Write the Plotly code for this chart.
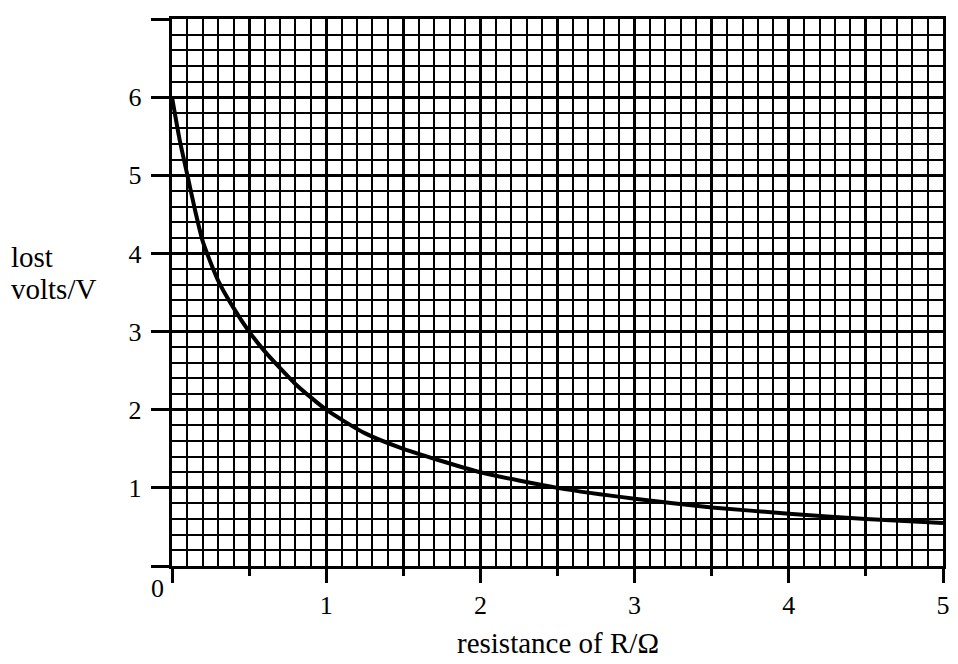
import plotly.graph_objects as go

# values
resistance = [0.0, 0.05, 0.1, 0.15, 0.2, 0.3, 0.4, 0.5, 0.6, 0.8, 1.0, 1.25, 1.5, 2.0, 2.5, 3.0, 3.5, 4.0, 4.5, 5.0]
lost_volts = [6.0, 5.45, 5.0, 4.55, 4.15, 3.65, 3.3, 3.0, 2.75, 2.33, 2.0, 1.7, 1.5, 1.2, 1.0, 0.86, 0.75, 0.67, 0.6, 0.55]

x_tick_vals = [0, 1, 2, 3, 4, 5]
x_tick_text = ["", "1", "2", "3", "4", "5"]
y_tick_vals = [0, 1, 2, 3, 4, 5, 6, 7]
y_tick_text = ["", "1", "2", "3", "4", "5", "6", ""]

FONT = "Liberation Serif"
INK = "black"

fig = go.Figure()
fig.add_trace(go.Scatter(x=resistance, y=lost_volts, mode="lines",
                         line=dict(color=INK, width=4, shape="spline", smoothing=0.6),
                         hoverinfo="skip", showlegend=False))
# invisible trace to activate the half-unit overlay axis
fig.add_trace(go.Scatter(x=[0, 5], y=[0, 0], xaxis="x2", mode="lines",
                         line=dict(width=0), hoverinfo="skip", showlegend=False))

fig.update_layout(
    width=950, height=656,
    margin=dict(l=164, r=12, t=8, b=98),
    paper_bgcolor="white", plot_bgcolor="white",
    font=dict(family=FONT, color=INK, size=26),
    xaxis=dict(range=[0, 5], tickvals=x_tick_vals, ticktext=x_tick_text,
               ticks="outside", ticklen=14, tickwidth=2.5, tickcolor=INK,
               ticklabelstandoff=0,
               showgrid=True, gridcolor=INK, gridwidth=3.4,
               minor=dict(dtick=0.1, tick0=0, showgrid=True, gridcolor=INK, gridwidth=2.1, ticks=""),
               showline=True, linecolor=INK, linewidth=3.4, mirror=True,
               zeroline=False, tickfont=dict(size=26)),
    xaxis2=dict(range=[0, 5], overlaying="x", side="bottom", anchor="y",
                tickmode="linear", tick0=0.5, dtick=1,
                ticks="outside", ticklen=9, tickwidth=2.5, tickcolor=INK,
                showticklabels=False,
                showgrid=True, gridcolor=INK, gridwidth=3.4, zeroline=False),
    yaxis=dict(range=[0, 7], tickvals=y_tick_vals, ticktext=y_tick_text,
               ticks="outside", ticklen=18, tickwidth=2.5, tickcolor=INK,
               ticklabelstandoff=4,
               showgrid=True, gridcolor=INK, gridwidth=3.4,
               minor=dict(dtick=0.2, tick0=0, showgrid=True, gridcolor=INK, gridwidth=2.1, ticks=""),
               showline=True, linecolor=INK, linewidth=3.4, mirror=True,
               zeroline=False, tickfont=dict(size=26)),
    annotations=[
        dict(text="0", x=0, y=0, xref="x", yref="y", xshift=-15, yshift=-22,
             showarrow=False, font=dict(size=26)),
        dict(text="lost", x=0, y=3.96, xref="paper", yref="y", xshift=-163,
             xanchor="left", yanchor="middle", align="left", showarrow=False,
             font=dict(size=29)),
        dict(text="volts/V", x=0, y=3.55, xref="paper", yref="y", xshift=-163,
             xanchor="left", yanchor="middle", align="left", showarrow=False,
             font=dict(size=29)),
        dict(text="resistance of R/Ω", x=2.5, y=0, xref="x", yref="paper",
             yanchor="middle", yshift=-77, showarrow=False, font=dict(size=29)),
    ],
)

fig.write_html("out.html")
